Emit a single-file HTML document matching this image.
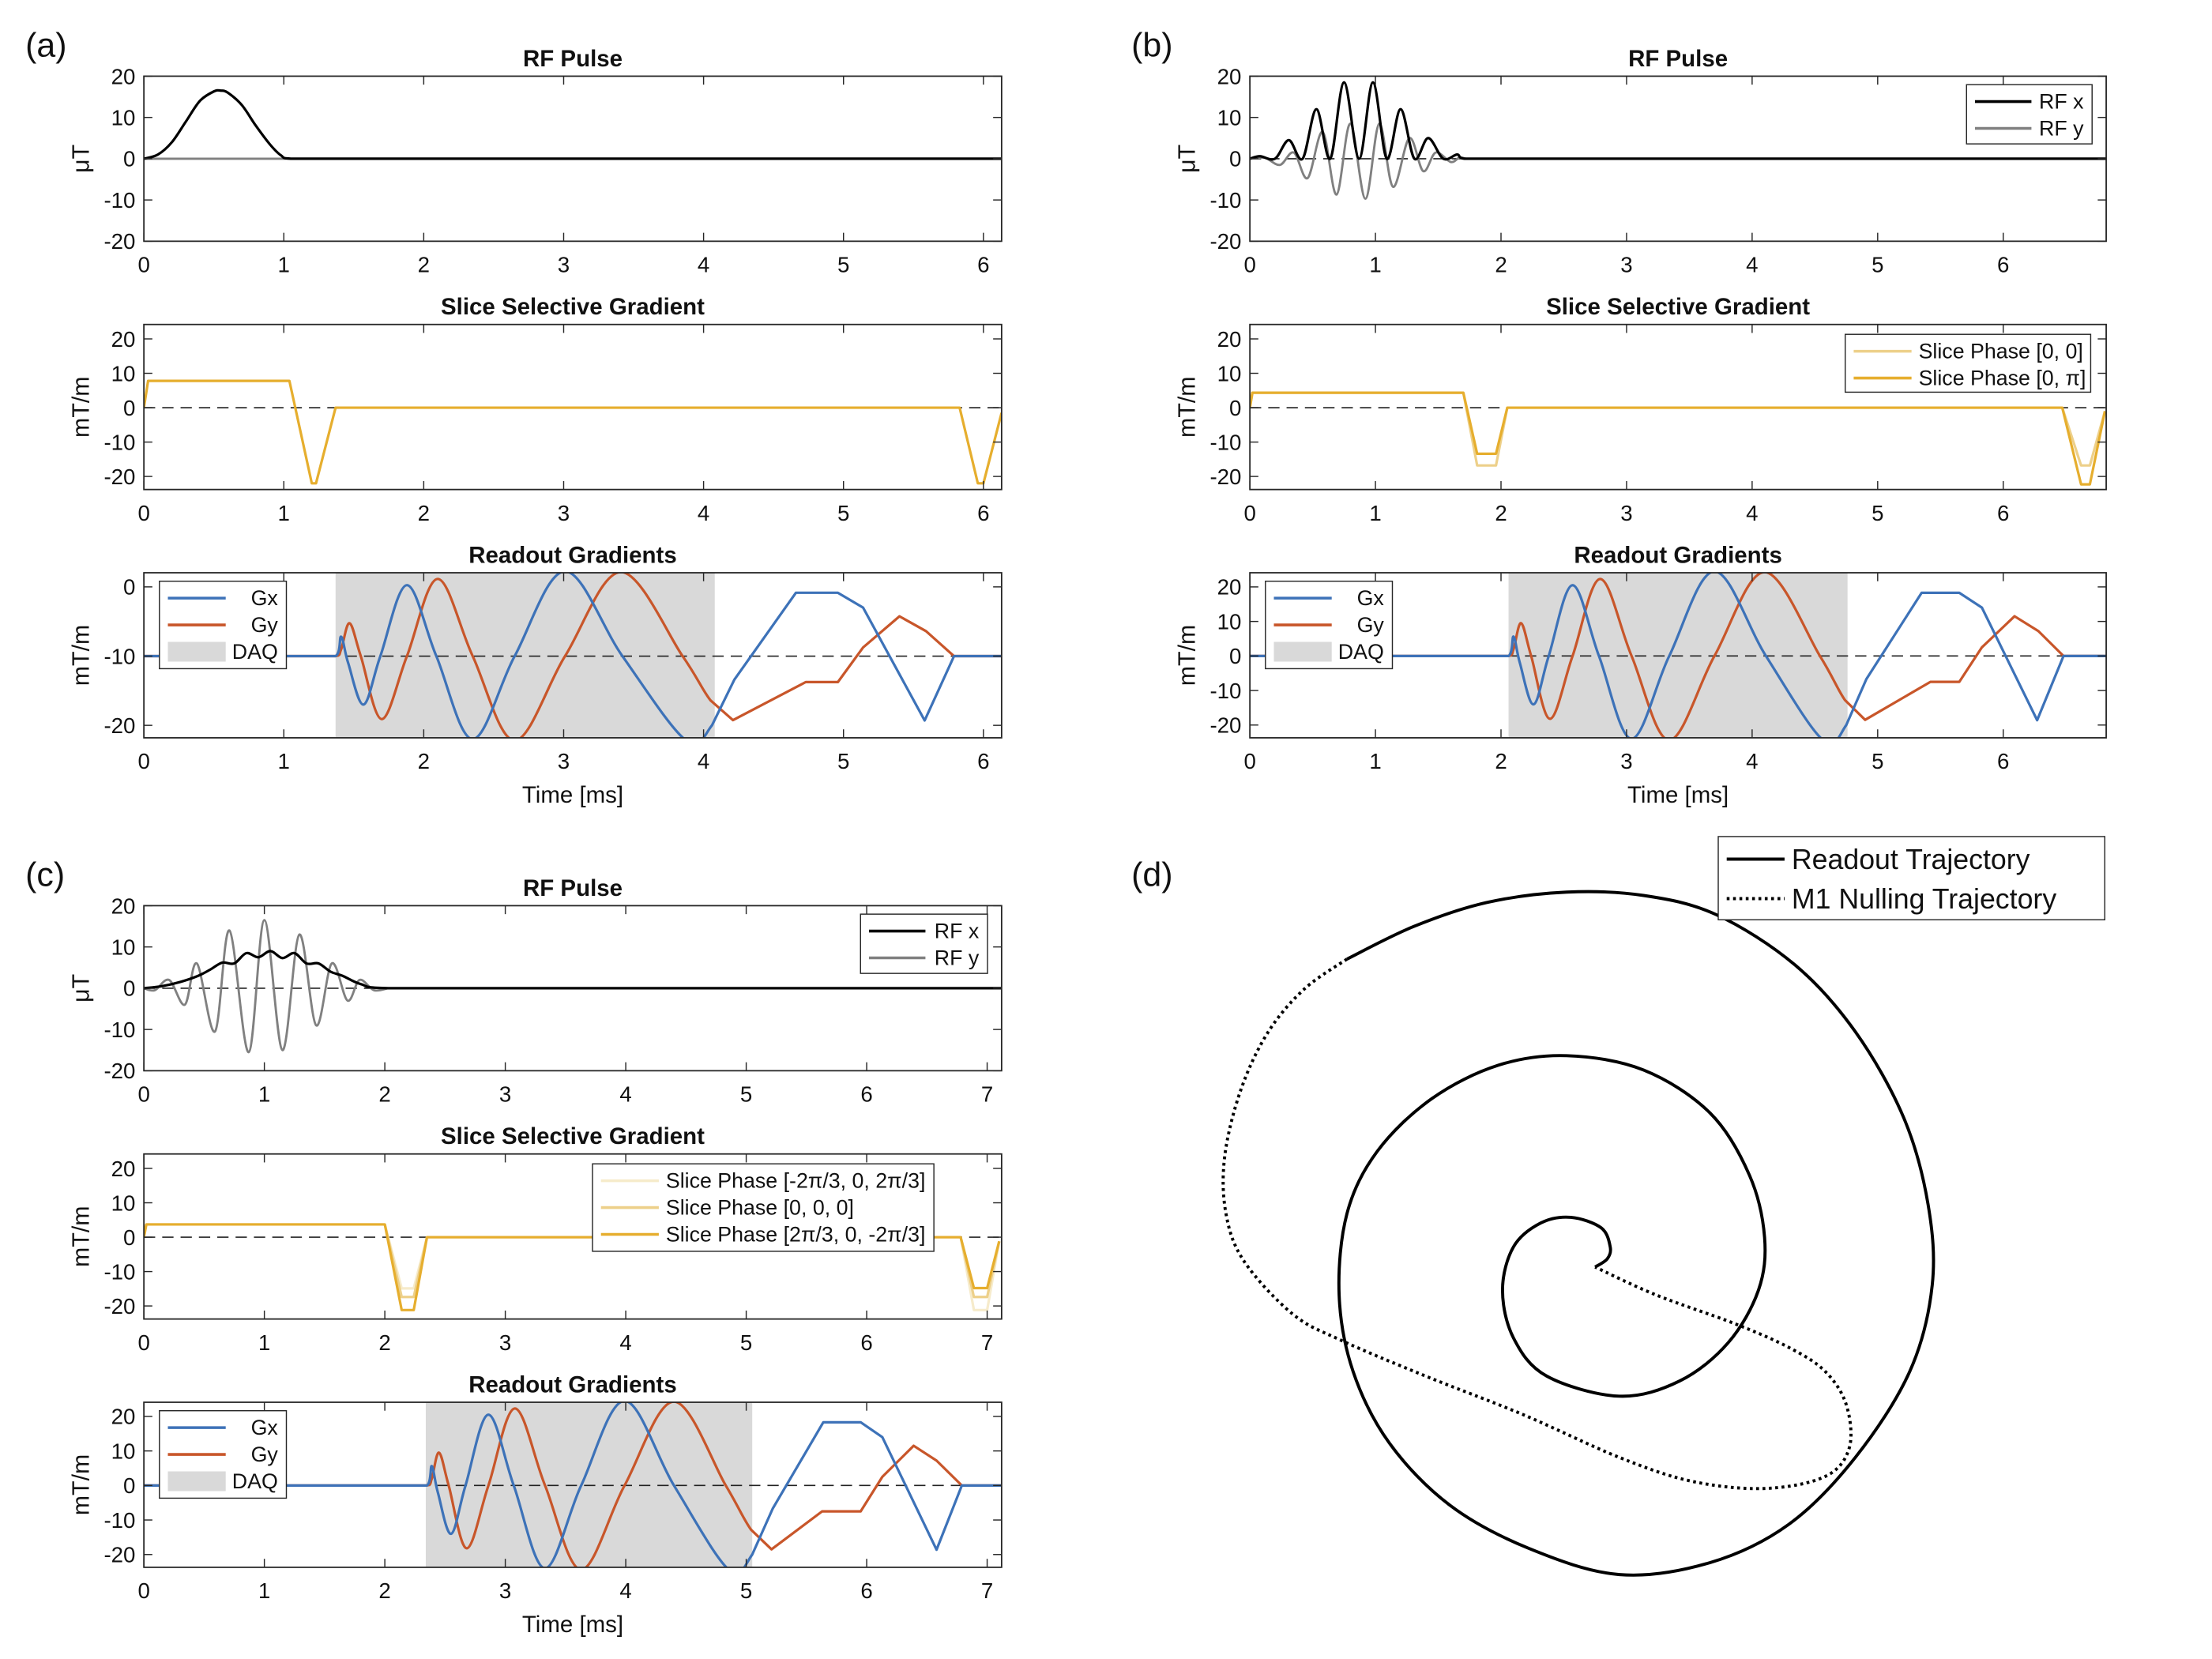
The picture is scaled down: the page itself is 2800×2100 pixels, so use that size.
<!DOCTYPE html>
<html><head><meta charset="utf-8">
<style>
html,body{margin:0;padding:0;background:#fff;}
svg{display:block;}
text{font-family:"Liberation Sans",sans-serif;fill:#111;}
</style></head>
<body>
<svg id="fig" xmlns="http://www.w3.org/2000/svg" width="2800" height="2100" viewBox="0 0 1568 1176">
<rect x="0" y="0" width="1568" height="1176" fill="#fff"/>
</svg>
<script>
// ---------- DATA ----------
// Panel (a)
const aRfXT=[0,0.1,0.2,0.3,0.4,0.5,0.55,0.6,0.7,0.8,0.9,0.98,1.05,6.13];
const aRfXV=[0,1,4,9,14,16.3,16.5,16,13,8,3.5,0.8,0,0];
const aRfYT=[0,1.05];
const aRfYV=[0,0];
const aSlT=[0,0.03,1.04,1.2,1.23,1.37,5.83,5.96,6.0,6.13];
const aSlV=[0,7.8,7.8,-22,-22,0,0,-22,-22,-1.5];
const aGxT=[0,1.37,1.41,1.46,1.57,1.69,1.88,2.09,2.35,2.65,3.01,3.42,3.87,4.06,4.22,4.66,4.96,5.14,5.58,5.79,6.13];
const aGxV=[-10,-10,-7.2,-11,-17,-10,0.25,-10,-22,-10,2.25,-10,-22.1,-20,-13.4,-0.85,-0.85,-3,-19.3,-10,-10];
const aGyT=[0,1.37,1.41,1.47,1.55,1.70,1.88,2.10,2.35,2.65,3.01,3.41,3.85,4.05,4.21,4.73,4.96,5.14,5.40,5.59,5.79,6.13];
const aGyV=[-10,-10,-9,-5.25,-10,-19.1,-10,1.15,-10,-22.2,-10,2.15,-10,-16.4,-19.25,-13.75,-13.75,-8.75,-4.25,-6.4,-10,-10];
const aDaq=[1.37,4.08];
// Panel (b)
const bRfXT=[0,0.08,0.2,0.31,0.42,0.53,0.64,0.75,0.87,0.98,1.09,1.2,1.31,1.42,1.54,1.65,1.71,6.82];
const bRfXV=[0,0.6,0,4.5,0,12,0,18.5,0,18.5,0,12,0,5,0,1,0,0];
const bRfYT=[0,0.12,0.24,0.35,0.46,0.58,0.69,0.8,0.92,1.03,1.14,1.27,1.38,1.48,1.6,1.67,1.72];
const bRfYV=[0,0.2,-1.5,1.5,-4.7,6.5,-8.7,8.5,-9.7,8.5,-6.8,5,-3,1.5,-0.8,0.3,0];
const bSl1T=[0,0.02,1.7,1.81,1.96,2.05,6.47,6.62,6.69,6.81];
const bSl1V=[0,4.35,4.35,-16.8,-16.8,0,0,-16.8,-16.8,-1];
const bSl2T=[0,0.02,1.7,1.81,1.96,2.05,6.47,6.62,6.69,6.81];
const bSl2V=[0,4.35,4.35,-13.4,-13.4,0,0,-22.3,-22.3,-1];
const bGxT=[0,2.06,2.1,2.15,2.26,2.38,2.57,2.78,3.04,3.34,3.7,4.11,4.56,4.75,4.91,5.35,5.65,5.83,6.27,6.48,6.82];
const bGxV=[0,0,5.6,-2,-14,0,20.5,0,-24,0,24.5,0,-24.2,-20,-6.7,18.3,18.3,14,-18.6,0,0];
const bGyT=[0,2.06,2.1,2.16,2.24,2.39,2.57,2.79,3.04,3.34,3.7,4.1,4.54,4.74,4.9,5.42,5.65,5.83,6.09,6.28,6.48,6.82];
const bGyV=[0,0,2,9.5,0,-18.2,0,22.3,0,-24.4,0,24.3,0,-12.8,-18.5,-7.5,-7.5,2.5,11.5,7.2,0,0];
const bDaq=[2.06,4.76];
// Panel (c)
const cRfXT=[0,0.15,0.3,0.45,0.55,0.65,0.75,0.85,0.95,1.05,1.15,1.25,1.35,1.45,1.55,1.65,1.8,2.03,7.12];
const cRfXV=[0,0.5,1.5,3,4.5,6.2,6,8.5,7.5,9,7.3,8.5,6,6,4,3,1,0,0];
const cRfYT=[0,0.09,0.21,0.34,0.44,0.59,0.71,0.87,1.0,1.15,1.29,1.43,1.56,1.69,1.79,1.91,2.03];
const cRfYV=[0,-0.5,2,-4,6,-10.5,14,-15.5,16.5,-15,13,-9,6,-3,2,-0.5,0];
const cSl1T=[0,0.02,2.0,2.14,2.24,2.35,6.78,6.89,7.0,7.1];
const cSl1V=[0,3.7,3.7,-14.9,-14.9,0,0,-21.2,-21.2,-1.2];
const cSl2T=[0,0.02,2.0,2.14,2.24,2.35,6.78,6.89,7.0,7.1];
const cSl2V=[0,3.7,3.7,-17.4,-17.4,0,0,-17.4,-17.4,-1.2];
const cSl3T=[0,0.02,2.0,2.14,2.24,2.35,6.78,6.89,7.0,7.1];
const cSl3V=[0,3.7,3.7,-21.2,-21.2,0,0,-14.8,-14.8,-1.2];
const cGxT=[0,2.35,2.39,2.44,2.55,2.67,2.86,3.07,3.33,3.63,3.99,4.40,4.85,5.05,5.22,5.64,5.95,6.13,6.58,6.79,7.12];
const cGxV=[0,0,5.6,-2,-14,0,20.5,0,-24,0,24.5,0,-24.2,-20,-6.7,18.3,18.3,14,-18.6,0,0];
const cGyT=[0,2.35,2.39,2.45,2.53,2.68,2.86,3.08,3.33,3.63,3.99,4.40,4.83,5.04,5.21,5.63,5.95,6.13,6.39,6.58,6.79,7.12];
const cGyV=[0,0,2,9.5,0,-18.2,0,22.3,0,-24.4,0,24.3,0,-12.8,-18.5,-7.5,-7.5,2.5,11.5,7.2,0,0];
const cDaq=[2.34,5.05];
// Panel (d) trajectories (arbitrary k-space units)
const readKx=[680,700,705,690,640,590,545,527,545,600,720,820,900,950,960,935,870,760,633,520,410,320,270,257,280,340,440,570,720,870,1000,1110,1200,1237,1230,1190,1110,1010,880,760,633,500,380,270];
const readKy=[912,895,870,830,808,820,870,960,1060,1140,1182,1150,1070,960,850,720,590,500,470,490,560,670,800,970,1130,1280,1410,1500,1555,1530,1450,1310,1130,950,780,600,420,280,175,135,128,150,200,268];
const m1Kx=[270,200,140,95,68,70,100,180,260,400,560,720,840,960,1060,1100,1095,1060,1000,910,780,680];
const m1Ky=[268,330,420,540,680,800,900,1010,1065,1140,1220,1310,1360,1375,1350,1290,1200,1130,1080,1030,970,912];
const xTicksA=[0,1,2,3,4,5,6];
const xTicksC=[0,1,2,3,4,5,6,7];
const yTicks20=[-20,-10,0,10,20];
const yTicksA3=[-20,-10,0];

// ---------- DRAW ----------
const NS='http://www.w3.org/2000/svg';
const svg=document.getElementById('fig');
function mk(tag,attrs,parent){const e=document.createElementNS(NS,tag);for(const k in attrs)e.setAttribute(k,attrs[k]);(parent||svg).appendChild(e);return e;}
function txt(s,x,y,size,anchor,parent,weight){const t=mk('text',{x:x,y:y,'font-size':size,'text-anchor':anchor||'middle'},parent);if(weight)t.setAttribute('font-weight',weight);t.textContent=s;return t;}
let clipId=0;
function axes(cfg){
  const g=mk('g',{});
  
  
  const sx=t=>cfg.x0+(t-0)/(cfg.tmax)*(cfg.x1-cfg.x0);
  const sy=v=>cfg.bottom-(v-cfg.ymin)/(cfg.ymax-cfg.ymin)*(cfg.bottom-cfg.top);
  const bg=mk('rect',{x:cfg.x0,y:cfg.top,width:cfg.x1-cfg.x0,height:cfg.bottom-cfg.top,fill:'#fff'},g);
  
  
  clipId++;
  const cp=mk('clipPath',{id:'c'+clipId},g);
  mk('rect',{x:cfg.x0,y:cfg.top,width:cfg.x1-cfg.x0,height:cfg.bottom-cfg.top},cp);
  const plot=mk('g',{'clip-path':'url(#c'+clipId+')'},g);
  const frame=mk('g',{},g);
  cfg.xticks.forEach(t=>{
    const x=sx(t);
    mk('line',{x1:x,x2:x,y1:cfg.bottom,y2:cfg.bottom-6,stroke:'#262626','stroke-width':0.8},frame);
    mk('line',{x1:x,x2:x,y1:cfg.top,y2:cfg.top+6,stroke:'#262626','stroke-width':0.8},frame);
    const l=txt(String(t),x,cfg.bottom+22,15.5,'middle',frame);
    
    
  });
  cfg.yticks.forEach(v=>{
    const y=sy(v);
    mk('line',{x1:cfg.x0,x2:cfg.x0+6,y1:y,y2:y,stroke:'#262626','stroke-width':0.8},frame);
    mk('line',{x1:cfg.x1,x2:cfg.x1-6,y1:y,y2:y,stroke:'#262626','stroke-width':0.8},frame);
    const l=txt(String(v),cfg.x0-6,y+5.5,15.5,'end',frame);
    
    
  });
  mk('rect',{x:cfg.x0,y:cfg.top,width:cfg.x1-cfg.x0,height:cfg.bottom-cfg.top,fill:'none',stroke:'#262626','stroke-width':1},frame);
  const ti=txt(cfg.title,(cfg.x0+cfg.x1)/2,cfg.top-7,16.5,'middle',frame,'bold');
  
  
  const yl=txt(cfg.ylabel,0,0,17,'middle',frame);
  yl.setAttribute('transform','translate('+(cfg.x0-39)+','+((cfg.top+cfg.bottom)/2)+') rotate(-90)');
  
  
  if(cfg.xlabel){const xl=txt(cfg.xlabel,(cfg.x0+cfg.x1)/2,cfg.bottom+46,16.5,'middle',frame);
    
    }
  return {sx,sy,plot,cfg,frame,g};
}
// smooth: true (all), false (none) or [tStart,tEnd] range where segments are smoothed
function pathD(ax,ts,vs,smooth){
  const p=ts.map((t,i)=>[ax.sx(t),ax.sy(vs[i])]);
  let d='M'+p[0][0].toFixed(2)+','+p[0][1].toFixed(2);
  for(let i=0;i<p.length-1;i++){
    let sm=smooth===true;
    if(Array.isArray(smooth))sm=ts[i]>=smooth[0]-0.001&&ts[i+1]<=smooth[1]+0.02;
    if(!sm){d+='L'+p[i+1][0].toFixed(2)+','+p[i+1][1].toFixed(2);continue;}
    const p0=p[Math.max(0,i-1)],p1=p[i],p2=p[i+1],p3=p[Math.min(p.length-1,i+2)];
    const c1=[p1[0]+(p2[0]-p0[0])/6,p1[1]+(p2[1]-p0[1])/6];
    const c2=[p2[0]-(p3[0]-p1[0])/6,p2[1]-(p3[1]-p1[1])/6];
    c1[0]=Math.min(Math.max(c1[0],p1[0]),p2[0]);c2[0]=Math.min(Math.max(c2[0],p1[0]),p2[0]);
    d+='C'+c1[0].toFixed(2)+','+c1[1].toFixed(2)+' '+c2[0].toFixed(2)+','+c2[1].toFixed(2)+' '+p2[0].toFixed(2)+','+p2[1].toFixed(2);
  }
  return d;
}
function series(ax,ts,vs,color,w,smooth,name){
  const e=mk('path',{d:pathD(ax,ts,vs,smooth),fill:'none',stroke:color,'stroke-width':w,'stroke-linejoin':'round'},ax.plot);
  
  
  return e;
}
function dashed(ax,v){
  const e=mk('line',{x1:ax.cfg.x0,x2:ax.cfg.x1,y1:ax.sy(v),y2:ax.sy(v),stroke:'#222','stroke-width':0.9,'stroke-dasharray':'8,5'},ax.plot);
  
  
}
function daq(ax,r){
  const e=mk('rect',{x:ax.sx(r[0]),y:ax.cfg.top,width:ax.sx(r[1])-ax.sx(r[0]),height:ax.cfg.bottom-ax.cfg.top,fill:'#d9d9d9'},ax.plot);
  
  
}
function legend(x,y,w,h,items,lineLen,fs,name){
  const g=mk('g',{});
  
  
  mk('rect',{x:x,y:y,width:w,height:h,fill:'#fff',stroke:'#262626','stroke-width':0.8},g);
  items.forEach((it,i)=>{
    const yy=y+12+i*19;
    if(it.patch){mk('rect',{x:x+6,y:yy-7,width:lineLen,height:14,fill:it.color},g);}
    else{const l=mk('line',{x1:x+6,x2:x+6+lineLen,y1:yy,y2:yy,stroke:it.color,'stroke-width':it.w||2},g);if(it.dash)l.setAttribute('stroke-dasharray',it.dash);}
    const t=txt(it.label,it.right?x+w-6:x+lineLen+11,yy+5,fs,it.right?'end':'start',g);
    
    
  });
}
const BLUE='#3d72b8',ORANGE='#c8562a',GOLD='#e6ae2e',GOLDM='#edd08a',GOLDL='#f6ebcb',GRAY='#808080';

function panelLabel(s,x,y){const t=txt(s,x,y,24,'start');}

// ---- (a) ----
panelLabel('(a)',18,40);
let ax=axes({name:'a-rf-plot',x0:102,x1:710,tmax:6.13,top:54,bottom:171,ymin:-20,ymax:20,xticks:xTicksA,yticks:yTicks20,title:'RF Pulse',ylabel:'\u03BCT'});
dashed(ax,0);
series(ax,aRfYT,aRfYV,GRAY,1.6,false,'rf-y-line');
series(ax,aRfXT,aRfXV,'#000',1.8,[0,1.05],'rf-x-line');
ax=axes({name:'a-slice-plot',x0:102,x1:710,tmax:6.13,top:230,bottom:347,ymin:-23.8,ymax:24.2,xticks:xTicksA,yticks:yTicks20,title:'Slice Selective Gradient',ylabel:'mT/m'});
dashed(ax,0);
series(ax,aSlT,aSlV,GOLD,1.8,false,'slice-gradient-line');
ax=axes({name:'a-readout-plot',x0:102,x1:710,tmax:6.13,top:406,bottom:523,ymin:-21.8,ymax:2.04,xticks:xTicksA,yticks:yTicksA3,title:'Readout Gradients',ylabel:'mT/m',xlabel:'Time [ms]'});
daq(ax,aDaq);
dashed(ax,-10);
series(ax,aGyT,aGyV,ORANGE,1.8,aDaq,'gy-line');
series(ax,aGxT,aGxV,BLUE,1.8,aDaq,'gx-line');
legend(113,412,90,62,[{label:'Gx',color:BLUE,right:true},{label:'Gy',color:ORANGE,right:true},{label:'DAQ',color:'#d9d9d9',patch:true,right:true}],41,15,'a-readout-legend');

// ---- (b) ----
panelLabel('(b)',802,40);
ax=axes({name:'b-rf-plot',x0:886,x1:1493,tmax:6.82,top:54,bottom:171,ymin:-20,ymax:20,xticks:xTicksA,yticks:yTicks20,title:'RF Pulse',ylabel:'\u03BCT'});
dashed(ax,0);
series(ax,bRfYT,bRfYV,GRAY,1.6,true,'rf-y-line');
series(ax,bRfXT,bRfXV,'#000',1.8,[0,1.71],'rf-x-line');
legend(1394,60,89,42,[{label:'RF x',color:'#000',right:true},{label:'RF y',color:GRAY,right:true}],40,15,'b-rf-legend');
ax=axes({name:'b-slice-plot',x0:886,x1:1493,tmax:6.82,top:230,bottom:347,ymin:-23.8,ymax:24.2,xticks:xTicksA,yticks:yTicks20,title:'Slice Selective Gradient',ylabel:'mT/m'});
dashed(ax,0);
series(ax,bSl1T,bSl1V,GOLDM,1.8,false,'slice-phase-0-0-line');
series(ax,bSl2T,bSl2V,GOLD,1.8,false,'slice-phase-0-pi-line');
legend(1308,237,174,41,[{label:'Slice Phase [0, 0]',color:GOLDM},{label:'Slice Phase [0, \u03C0]',color:GOLD}],41,15,'b-slice-legend');
ax=axes({name:'b-readout-plot',x0:886,x1:1493,tmax:6.82,top:406,bottom:523,ymin:-23.7,ymax:24.1,xticks:xTicksA,yticks:yTicks20,title:'Readout Gradients',ylabel:'mT/m',xlabel:'Time [ms]'});
daq(ax,bDaq);
dashed(ax,0);
series(ax,bGyT,bGyV,ORANGE,1.8,bDaq,'gy-line');
series(ax,bGxT,bGxV,BLUE,1.8,bDaq,'gx-line');
legend(897,412,90,62,[{label:'Gx',color:BLUE,right:true},{label:'Gy',color:ORANGE,right:true},{label:'DAQ',color:'#d9d9d9',patch:true,right:true}],41,15,'b-readout-legend');

// ---- (c) ----
panelLabel('(c)',18,628);
ax=axes({name:'c-rf-plot',x0:102,x1:710,tmax:7.12,top:642,bottom:759,ymin:-20,ymax:20,xticks:xTicksC,yticks:yTicks20,title:'RF Pulse',ylabel:'\u03BCT'});
dashed(ax,0);
series(ax,cRfYT,cRfYV,GRAY,1.6,true,'rf-y-line');
series(ax,cRfXT,cRfXV,'#000',1.8,[0,2.03],'rf-x-line');
legend(610,648,90,42,[{label:'RF x',color:'#000',right:true},{label:'RF y',color:GRAY,right:true}],40,15,'c-rf-legend');
ax=axes({name:'c-slice-plot',x0:102,x1:710,tmax:7.12,top:818,bottom:935,ymin:-23.8,ymax:24.2,xticks:xTicksC,yticks:yTicks20,title:'Slice Selective Gradient',ylabel:'mT/m'});
dashed(ax,0);
series(ax,cSl1T,cSl1V,GOLDL,1.8,false,'slice-phase-neg-line');
series(ax,cSl2T,cSl2V,GOLDM,1.8,false,'slice-phase-zero-line');
series(ax,cSl3T,cSl3V,GOLD,1.8,false,'slice-phase-pos-line');
legend(420,825,242,62,[{label:'Slice Phase [-2\u03C0/3, 0, 2\u03C0/3]',color:GOLDL},{label:'Slice Phase [0, 0, 0]',color:GOLDM},{label:'Slice Phase [2\u03C0/3, 0, -2\u03C0/3]',color:GOLD}],41,15,'c-slice-legend');
ax=axes({name:'c-readout-plot',x0:102,x1:710,tmax:7.12,top:994,bottom:1111,ymin:-23.7,ymax:24.1,xticks:xTicksC,yticks:yTicks20,title:'Readout Gradients',ylabel:'mT/m',xlabel:'Time [ms]'});
daq(ax,cDaq);
dashed(ax,0);
series(ax,cGyT,cGyV,ORANGE,1.8,cDaq,'gy-line');
series(ax,cGxT,cGxV,BLUE,1.8,cDaq,'gx-line');
legend(113,1000,90,62,[{label:'Gx',color:BLUE,right:true},{label:'Gy',color:ORANGE,right:true},{label:'DAQ',color:'#d9d9d9',patch:true,right:true}],41,15,'c-readout-legend');

// ---- (d) ----
panelLabel('(d)',802,628);
const kxs=k=>839+0.429*k, kys=k=>589+0.339*k;
function traj(xs,ys,dash,name){
  const p=xs.map((x,i)=>[kxs(x),kys(ys[i])]);
  let d='M'+p[0][0]+','+p[0][1];
  for(let i=0;i<p.length-1;i++){
    const p0=p[Math.max(0,i-1)],p1=p[i],p2=p[i+1],p3=p[Math.min(p.length-1,i+2)];
    d+='C'+(p1[0]+(p2[0]-p0[0])/6).toFixed(2)+','+(p1[1]+(p2[1]-p0[1])/6).toFixed(2)+' '+(p2[0]-(p3[0]-p1[0])/6).toFixed(2)+','+(p2[1]-(p3[1]-p1[1])/6).toFixed(2)+' '+p2[0].toFixed(2)+','+p2[1].toFixed(2);
  }
  const e=mk('path',{d:d,fill:'none',stroke:'#000','stroke-width':2.2});
  if(dash)e.setAttribute('stroke-dasharray',dash);
  
  
}
traj(readKx,readKy,null,'readout-trajectory');
traj(m1Kx,m1Ky,'2,2.5','m1-nulling-trajectory');
const lg=mk('g',{});


mk('rect',{x:1218,y:593,width:274,height:59,fill:'#fff',stroke:'#262626','stroke-width':0.8},lg);
mk('line',{x1:1224,x2:1265,y1:609,y2:609,stroke:'#000','stroke-width':2.2},lg);
mk('line',{x1:1224,x2:1265,y1:637,y2:637,stroke:'#000','stroke-width':2.2,'stroke-dasharray':'2,2.5'},lg);
let t1=txt('Readout Trajectory',1270,616,20,'start',lg);


let t2=txt('M1 Nulling Trajectory',1270,644,20,'start',lg);


</script>
</body></html>
